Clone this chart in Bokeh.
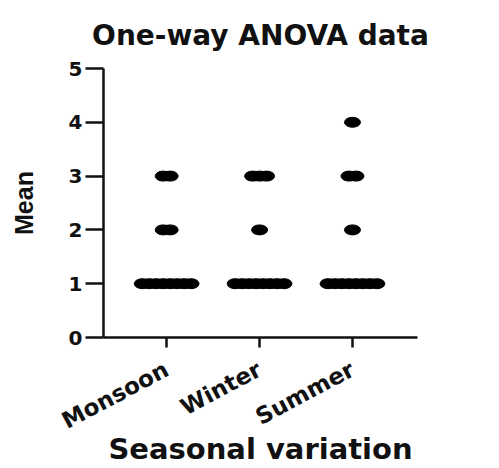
import math
from bokeh.plotting import figure
from bokeh.models import Range1d, FixedTicker, ColumnDataSource
from bokeh.embed import file_html
from bokeh.resources import INLINE

# ---- data ----
title_text = "One-way ANOVA data"
categories = ["Monsoon", "Winter", "Summer"]
monsoon = [1, 1, 1, 1, 1, 1, 1, 1, 2, 2, 3, 3]
winter = [1, 1, 1, 1, 1, 1, 1, 1, 2, 3, 3, 3]
summer = [1, 1, 1, 1, 1, 1, 1, 1, 2, 3, 3, 4]
y_ticks = [0, 1, 2, 3, 4, 5]

groups = [monsoon, winter, summer]

# build scatter-dot positions (identical values spread side by side)
spacing = 0.075
xs, ys = [], []
for gi, vals in enumerate(groups):
    center = gi + 1
    counts = {}
    for v in vals:
        counts[v] = counts.get(v, 0) + 1
    for v, n in counts.items():
        for i in range(n):
            xs.append(center + (i - (n - 1) / 2) * spacing)
            ys.append(v)
src = ColumnDataSource(dict(x=xs, y=ys))

x_lo, x_hi = 0.32, 3.7
y_lo, y_hi = 0, 5

p = figure(frame_width=314, frame_height=269, output_backend="svg", toolbar_location=None,
           x_range=Range1d(x_lo, x_hi), y_range=Range1d(y_lo, y_hi),
           min_border_left=103, min_border_right=82, min_border_top=68, min_border_bottom=131)

p.title.text = title_text
p.title.align = "center"
p.title.vertical_align = "top"
p.title.text_font = "DejaVu Sans"
p.title.text_font_size = "28px"
p.title.text_font_style = "bold"
p.title.text_color = "#111111"
p.title.standoff = 29

p.ellipse(x="x", y="y", width=16, height=10, width_units="screen", height_units="screen",
          source=src, fill_color="black", line_color="black")

p.xgrid.visible = False
p.ygrid.visible = False
p.outline_line_color = None

for ax in (p.xaxis[0], p.yaxis[0]):
    ax.axis_line_width = 2.5
    ax.axis_line_color = "#111111"
    ax.major_tick_line_width = 2.5
    ax.major_tick_line_color = "#111111"
    ax.minor_tick_line_color = None
    ax.major_tick_in = 0
    ax.major_label_text_font_style = "bold"
    ax.major_label_text_color = "#111111"
    ax.axis_label_text_font_style = "bold"
    ax.axis_label_text_color = "#111111"

p.yaxis.ticker = FixedTicker(ticks=y_ticks)
p.yaxis.major_tick_out = 18
p.yaxis.major_label_standoff = 3
p.yaxis.major_label_text_font = "DejaVu Sans"
p.yaxis.major_label_text_font_size = "20px"
p.yaxis.axis_label = "Mean"
p.yaxis.axis_label_text_font = "Liberation Sans"
p.yaxis.axis_label_text_font_size = "25px"
p.yaxis.axis_label_standoff = 28

p.xaxis.ticker = FixedTicker(ticks=[1, 2, 3])
p.xaxis.major_label_overrides = {i + 1: c for i, c in enumerate(categories)}
p.xaxis.major_tick_out = 10
p.xaxis.major_label_orientation = math.radians(28)
p.xaxis.major_label_standoff = 20
p.xaxis.major_label_text_font = "DejaVu Sans"
p.xaxis.major_label_text_font_size = "23px"
p.xaxis.axis_label = "Seasonal variation"
p.xaxis.axis_label_text_font = "DejaVu Sans"
p.xaxis.axis_label_text_font_size = "29px"
p.xaxis.axis_label_standoff = -16

open("out.html", "w").write(file_html(p, INLINE))
